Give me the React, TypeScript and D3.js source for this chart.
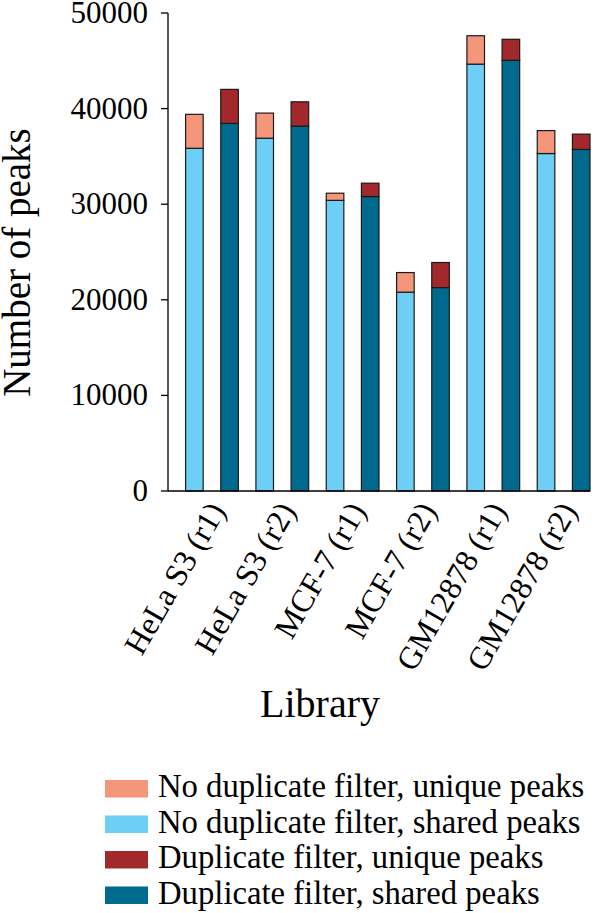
import React from "react";
import * as d3 from "d3";

const libraries = [
  "HeLa S3 (r1)",
  "HeLa S3 (r2)",
  "MCF-7 (r1)",
  "MCF-7 (r2)",
  "GM12878 (r1)",
  "GM12878 (r2)",
];

// no duplicate filter
const noDupShared = [35850, 36900, 30400, 20800, 44650, 35300];
const noDupUnique = [3550, 2630, 750, 2050, 2970, 2400];
// duplicate filter
const dupShared = [38450, 38170, 30800, 21280, 45050, 35730];
const dupUnique = [3560, 2540, 1400, 2620, 2200, 1600];

const yTicks = [0, 10000, 20000, 30000, 40000, 50000];

const legendLabels = [
  "No duplicate filter, unique peaks",
  "No duplicate filter, shared peaks",
  "Duplicate filter, unique peaks",
  "Duplicate filter, shared peaks",
];
const colors = ["#f4967a", "#6dcff6", "#a3282b", "#006a8e"];

const FONT = "'Liberation Serif', 'Times New Roman', serif";

export default function App() {
  const width = 600;
  const height = 913;
  const left = 168;
  const right = 590;
  const top = 13;
  const bottom = 491;

  const keys = libraries.flatMap((l) => [l + "|nodup", l + "|dup"]);
  const x = d3
    .scaleBand()
    .domain(keys)
    .range([left, right])
    .paddingInner(0.5)
    .paddingOuter(0.25)
    .align(1);
  const y = d3.scaleLinear().domain([0, 50000]).range([bottom, top]);
  const bw = x.bandwidth();

  const bars: { key: string; y0: number; y1: number; fill: string }[] = [];
  libraries.forEach((lib, i) => {
    bars.push({ key: lib + "|nodup", y0: 0, y1: noDupShared[i], fill: colors[1] });
    bars.push({
      key: lib + "|nodup",
      y0: noDupShared[i],
      y1: noDupShared[i] + noDupUnique[i],
      fill: colors[0],
    });
    bars.push({ key: lib + "|dup", y0: 0, y1: dupShared[i], fill: colors[3] });
    bars.push({
      key: lib + "|dup",
      y0: dupShared[i],
      y1: dupShared[i] + dupUnique[i],
      fill: colors[2],
    });
  });

  return (
    <svg
      width={width}
      height={height}
      style={{ position: "absolute", left: 0, top: 0, background: "#fff" }}
      fontFamily={FONT}
    >
      {/* bars */}
      {bars.map((b, i) => (
        <rect
          key={i}
          x={x(b.key)}
          y={y(b.y1)}
          width={bw}
          height={y(b.y0) - y(b.y1)}
          fill={b.fill}
          stroke="#1a1a1a"
          strokeWidth={1.2}
        />
      ))}

      {/* y axis */}
      <line x1={left} x2={left} y1={y(0)} y2={y(50000)} stroke="#000" strokeWidth={1.3} />
      {yTicks.map((t) => (
        <g key={t} transform={`translate(0,${y(t)})`}>
          <line x1={left - 7} x2={left} stroke="#000" strokeWidth={1.3} />
          <text x={148} dy="0.32em" textAnchor="end" fontSize={31}>
            {t}
          </text>
        </g>
      ))}
      <text
        transform={`translate(30,${(123 + 402) / 2}) rotate(-90)`}
        textAnchor="middle"
        fontSize={39}
      >
        Number of peaks
      </text>

      {/* x axis */}
      <line x1={left} x2={right} y1={bottom} y2={bottom} stroke="#000" strokeWidth={1.3} />
      {libraries.map((lib) => {
        const cx = (x(lib + "|dup") ?? 0) + bw / 2 - 13;
        return (
          <text
            key={lib}
            transform={`translate(${cx},505) rotate(-60)`}
            textAnchor="end"
            dy="0.35em"
            fontSize={32}
          >
            {lib}
          </text>
        );
      })}
      <text x={320} y={717} textAnchor="middle" fontSize={40}>
        Library
      </text>

      {/* legend */}
      {legendLabels.map((l, i) => {
        const ry = 780 + i * 35.5;
        return (
          <g key={l}>
            <rect x={105} y={ry} width={43} height={17.5} fill={colors[i]} />
            <text x={158} y={ry + 17} fontSize={32.7}>
              {l}
            </text>
          </g>
        );
      })}
    </svg>
  );
}
